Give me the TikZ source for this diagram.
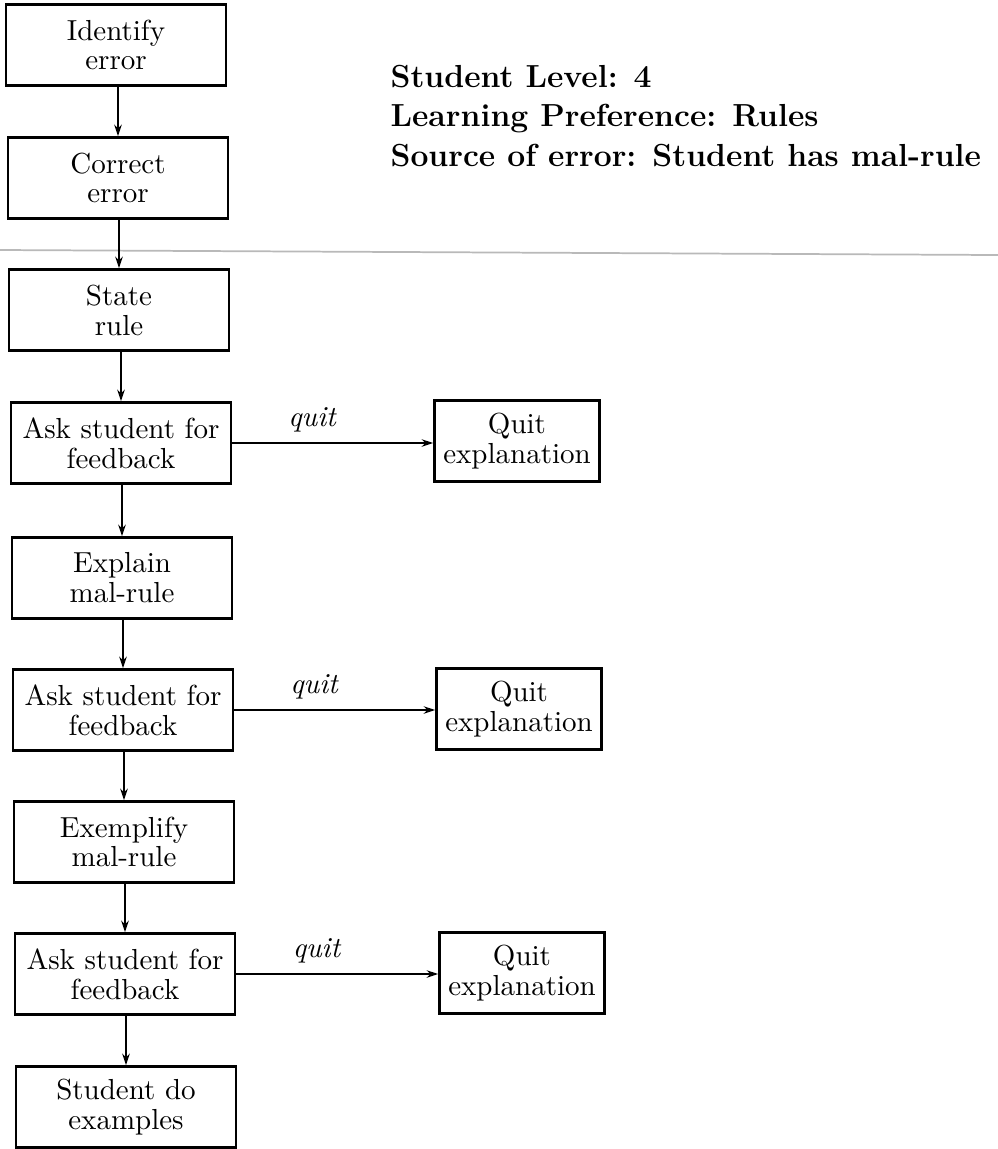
\documentclass[tikz,border=0pt]{standalone}
\usetikzlibrary{arrows.meta}
\begin{document}
\begin{tikzpicture}[x=0.345pt,y=0.345pt,
    box/.style={draw=black, line width=0.85pt, minimum width=76pt, minimum height=28pt, inner sep=1pt, align=center, font=\fontsize{10}{10.3}\selectfont},
    quitbox/.style={box, minimum width=57pt},
    flow/.style={-{Stealth[length=4pt,width=2.6pt]}, line width=0.55pt}]
            \useasboundingbox (0,0) rectangle (998,-1149);
            %Boites principales
            \node[box] (identify) at (116,-45) {Identify\\error};
            \node[box] (correct) at (118,-178) {Correct\\error};
            \node[box] (state) at (119,-310) {State\\rule};
            \node[box] (askA) at (121,-443) {Ask student for\\feedback};
            \node[box] (explain) at (122,-578) {Explain\\mal-rule};
            \node[box] (askB) at (123,-710) {Ask student for\\feedback};
            \node[box] (exemplify) at (124,-842) {Exemplify\\mal-rule};
            \node[box] (askC) at (125,-974) {Ask student for\\feedback};
            \node[box] (examples) at (126,-1107) {Student do\\examples};
            %Sorties
            \node[quitbox] (quitA) at (517,-441) {Quit\\explanation};
            \node[quitbox] (quitB) at (519,-709) {Quit\\explanation};
            \node[quitbox] (quitC) at (522,-973) {Quit\\explanation};
            %Profil
            \node[anchor=west, align=left, inner sep=0pt, font=\fontsize{11}{13.5}\selectfont\bfseries] (profile) at (390,-116) {Student Level: 4\\Learning Preference: Rules\\Source of error: Student has mal-rule};
            %Trait de separation
            \draw[gray!55, line width=0.6pt] (0,-250) -- (998,-255);
            %Fleches
            \draw[flow] (correct.north |- identify.south) -- (correct.north);
            \draw[flow] (state.north |- correct.south) -- (state.north);
            \draw[flow] (askA.north |- state.south) -- (askA.north);
            \draw[flow] (explain.north |- askA.south) -- (explain.north);
            \draw[flow] (askB.north |- explain.south) -- (askB.north);
            \draw[flow] (exemplify.north |- askB.south) -- (exemplify.north);
            \draw[flow] (askC.north |- exemplify.south) -- (askC.north);
            \draw[flow] (examples.north |- askC.south) -- (examples.north);
            \draw[flow] (askA) -- (askA -| quitA.west) node[pos=0.4,above] {\textit{quit}};
            \draw[flow] (askB) -- (askB -| quitB.west) node[pos=0.4,above] {\textit{quit}};
            \draw[flow] (askC) -- (askC -| quitC.west) node[pos=0.4,above] {\textit{quit}};
\end{tikzpicture}
\end{document}
